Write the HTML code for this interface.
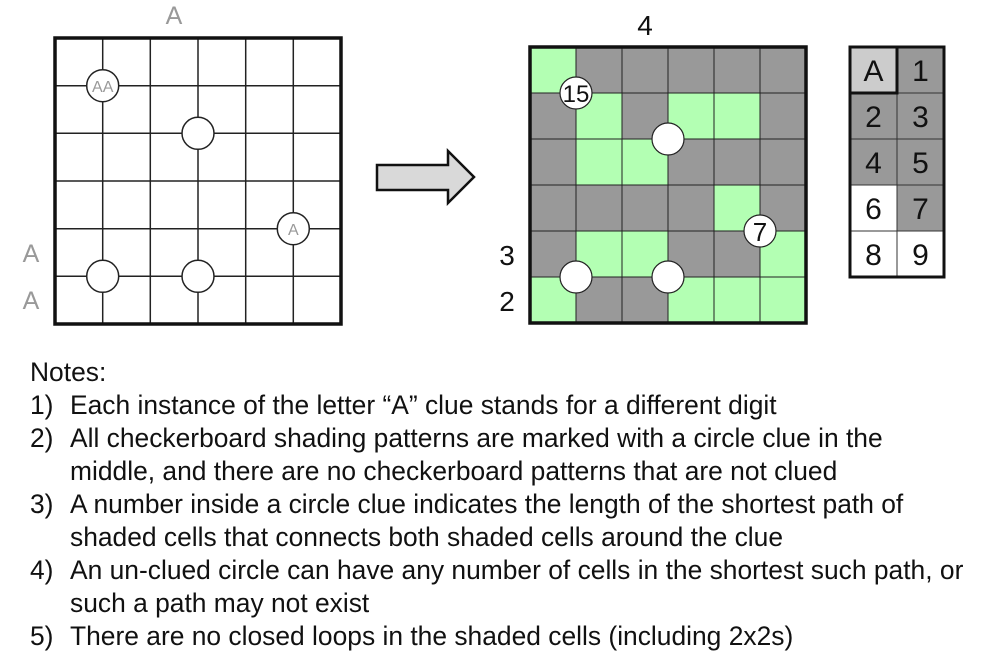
<!DOCTYPE html>
<html><head><style>
body{margin:0;width:1000px;height:666px;background:#fff;overflow:hidden;font-family:"Liberation Sans",sans-serif;}
.notes{position:absolute;left:30px;top:356px;font-size:26.4px;line-height:33px;color:#111;}
.notes div{position:relative;padding-left:40px;white-space:nowrap;}
.notes span{position:absolute;left:0;}
</style></head><body>
<svg width="1000" height="666" style="position:absolute;left:0;top:0" font-family="Liberation Sans, sans-serif">
<g stroke="#222" stroke-width="1.5">
<line x1="102.7" y1="38" x2="102.7" y2="324"/><line x1="150.3" y1="38" x2="150.3" y2="324"/><line x1="198" y1="38" x2="198" y2="324"/><line x1="245.7" y1="38" x2="245.7" y2="324"/><line x1="293.3" y1="38" x2="293.3" y2="324"/>
<line x1="55" y1="85.7" x2="341" y2="85.7"/><line x1="55" y1="133.3" x2="341" y2="133.3"/><line x1="55" y1="181" x2="341" y2="181"/><line x1="55" y1="228.7" x2="341" y2="228.7"/><line x1="55" y1="276.3" x2="341" y2="276.3"/>
</g>
<rect x="55" y="38" width="286" height="286" fill="none" stroke="#111" stroke-width="3.5"/>
<g fill="#fff" stroke="#222" stroke-width="1.5">
<circle cx="102.7" cy="85.7" r="16"/><circle cx="198" cy="133.3" r="16"/><circle cx="293.3" cy="228.7" r="16"/><circle cx="102.7" cy="276.3" r="16"/><circle cx="198" cy="276.3" r="16"/>
</g>
<g fill="#999" text-anchor="middle">
<text x="102.7" y="92" font-size="16">AA</text>
<text x="293.3" y="235" font-size="16">A</text>
<text x="174" y="24" font-size="25">A</text>
<text x="31" y="262" font-size="25">A</text>
<text x="31" y="309" font-size="25">A</text>
</g>
<polygon points="377,165 448,165 448,151 474,177 448,203 448,190 377,190" fill="#d9d9d9" stroke="#111" stroke-width="2.5"/>
<g stroke="#222" stroke-width="1">
<rect x="530" y="47" width="46" height="46" fill="#b3ffb3"/><rect x="576" y="47" width="46" height="46" fill="#999"/><rect x="622" y="47" width="46" height="46" fill="#999"/><rect x="668" y="47" width="46" height="46" fill="#999"/><rect x="714" y="47" width="46" height="46" fill="#999"/><rect x="760" y="47" width="46" height="46" fill="#999"/>
<rect x="530" y="93" width="46" height="46" fill="#999"/><rect x="576" y="93" width="46" height="46" fill="#b3ffb3"/><rect x="622" y="93" width="46" height="46" fill="#999"/><rect x="668" y="93" width="46" height="46" fill="#b3ffb3"/><rect x="714" y="93" width="46" height="46" fill="#b3ffb3"/><rect x="760" y="93" width="46" height="46" fill="#999"/>
<rect x="530" y="139" width="46" height="46" fill="#999"/><rect x="576" y="139" width="46" height="46" fill="#b3ffb3"/><rect x="622" y="139" width="46" height="46" fill="#b3ffb3"/><rect x="668" y="139" width="46" height="46" fill="#999"/><rect x="714" y="139" width="46" height="46" fill="#999"/><rect x="760" y="139" width="46" height="46" fill="#999"/>
<rect x="530" y="185" width="46" height="46" fill="#999"/><rect x="576" y="185" width="46" height="46" fill="#999"/><rect x="622" y="185" width="46" height="46" fill="#999"/><rect x="668" y="185" width="46" height="46" fill="#999"/><rect x="714" y="185" width="46" height="46" fill="#b3ffb3"/><rect x="760" y="185" width="46" height="46" fill="#999"/>
<rect x="530" y="231" width="46" height="46" fill="#999"/><rect x="576" y="231" width="46" height="46" fill="#b3ffb3"/><rect x="622" y="231" width="46" height="46" fill="#b3ffb3"/><rect x="668" y="231" width="46" height="46" fill="#999"/><rect x="714" y="231" width="46" height="46" fill="#999"/><rect x="760" y="231" width="46" height="46" fill="#b3ffb3"/>
<rect x="530" y="277" width="46" height="46" fill="#b3ffb3"/><rect x="576" y="277" width="46" height="46" fill="#999"/><rect x="622" y="277" width="46" height="46" fill="#999"/><rect x="668" y="277" width="46" height="46" fill="#b3ffb3"/><rect x="714" y="277" width="46" height="46" fill="#b3ffb3"/><rect x="760" y="277" width="46" height="46" fill="#b3ffb3"/>
</g>
<rect x="530" y="47" width="276" height="276" fill="none" stroke="#111" stroke-width="3.5"/>
<g fill="#fff" stroke="#222" stroke-width="1.2">
<circle cx="576" cy="93" r="16"/><circle cx="668" cy="139" r="16"/><circle cx="760" cy="231" r="16"/><circle cx="576" cy="277" r="16"/><circle cx="668" cy="277" r="16"/>
</g>
<g fill="#111" text-anchor="middle" font-size="28">
<text x="576" y="102" font-size="24">15</text>
<text x="760" y="241" font-size="26">7</text>
<text x="645" y="35">4</text>
<text x="507" y="265">3</text>
<text x="507" y="311">2</text>
</g>
<g stroke="#333" stroke-width="1">
<rect x="850" y="47" width="47" height="46" fill="#ccc"/><rect x="897" y="47" width="47" height="46" fill="#999"/>
<rect x="850" y="93" width="47" height="46" fill="#999"/><rect x="897" y="93" width="47" height="46" fill="#999"/>
<rect x="850" y="139" width="47" height="46" fill="#999"/><rect x="897" y="139" width="47" height="46" fill="#999"/>
<rect x="850" y="185" width="47" height="46" fill="#fff"/><rect x="897" y="185" width="47" height="46" fill="#999"/>
<rect x="850" y="231" width="47" height="46" fill="#fff"/><rect x="897" y="231" width="47" height="46" fill="#fff"/>
</g>
<rect x="850" y="47" width="47" height="46" fill="none" stroke="#111" stroke-width="3"/>
<rect x="850" y="47" width="94" height="230" fill="none" stroke="#111" stroke-width="3"/>
<g fill="#111" text-anchor="middle" font-size="30">
<text x="873.5" y="81">A</text><text x="920.5" y="81">1</text>
<text x="873.5" y="127">2</text><text x="920.5" y="127">3</text>
<text x="873.5" y="173">4</text><text x="920.5" y="173">5</text>
<text x="873.5" y="219">6</text><text x="920.5" y="219">7</text>
<text x="873.5" y="265">8</text><text x="920.5" y="265">9</text>
</g>
</svg>
<div class="notes">
<div style="padding-left:0">Notes:</div>
<div><span>1)</span>Each instance of the letter “A” clue stands for a different digit</div>
<div><span>2)</span>All checkerboard shading patterns are marked with a circle clue in the<br>middle, and there are no checkerboard patterns that are not clued</div>
<div><span>3)</span>A number inside a circle clue indicates the length of the shortest path of<br>shaded cells that connects both shaded cells around the clue</div>
<div><span>4)</span>An un-clued circle can have any number of cells in the shortest such path, or<br>such a path may not exist</div>
<div><span>5)</span>There are no closed loops in the shaded cells (including 2x2s)</div>
</div>
</body></html>
